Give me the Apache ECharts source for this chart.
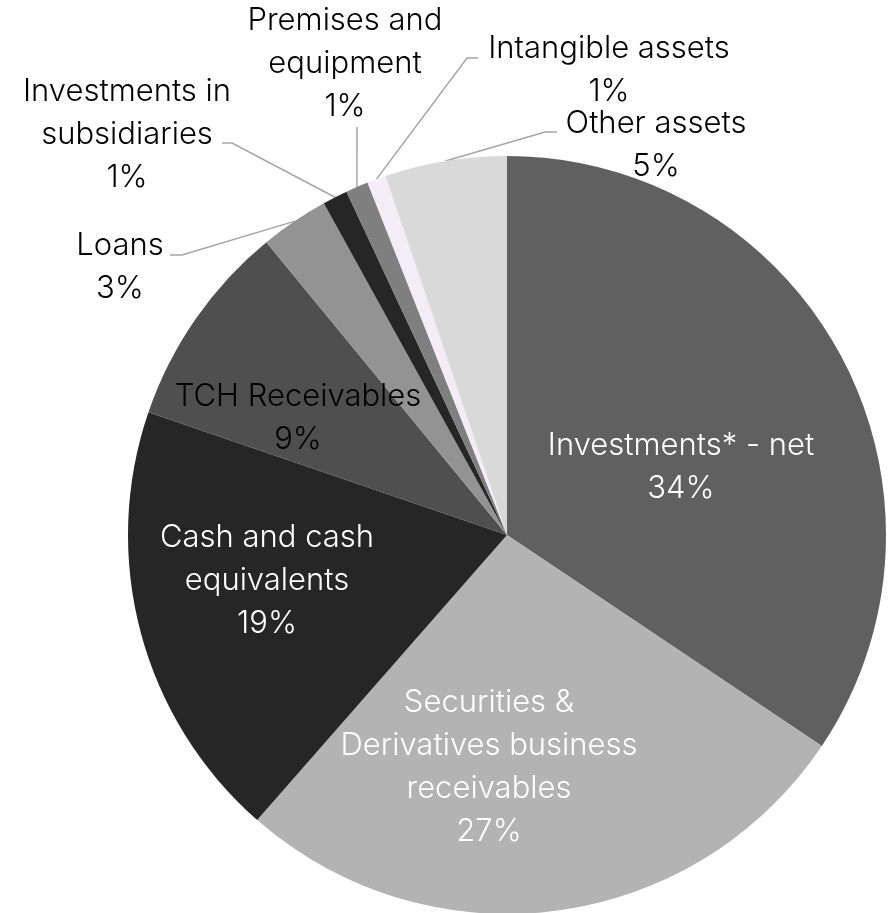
<!DOCTYPE html>
<html>
<head>
<meta charset="utf-8">
<script src="https://cdn.jsdelivr.net/npm/echarts@6/dist/echarts.min.js"></script>
<style>
  html, body { margin: 0; padding: 0; background: #ffffff; }
  #chart { width: 889px; height: 913px; }
</style>
</head>
<body>
<div id="chart"></div>
<script>
// Asset composition (share of total, %)
const categories = [
  'Investments* - net',
  'Securities &\nDerivatives business\nreceivables',
  'Cash and cash\nequivalents',
  'TCH Receivables',
  'Loans',
  'Investments in\nsubsidiaries',
  'Premises and\nequipment',
  'Intangible assets',
  'Other assets'
];
const values = [34.4, 27.06, 18.8, 8.8, 2.92, 1.07, 0.96, 0.81, 5.19];

// Styling per slice
const sliceColors = ['#606060', '#b3b3b3', '#262626', '#4f4f4f', '#939393', '#262626', '#7f7f7f', '#f3edf5', '#d9d9d9'];
const labelColors = ['#ffffff', '#ffffff', '#ffffff', '#000000', '#000000', '#000000', '#000000', '#000000', '#000000'];
const outside = [false, false, false, false, true, true, true, true, true];

// Label block centres and leader line bends (px)
const labelPos = [
  [681, 467], [489, 767], [267, 581], [298, 418],
  [120, 267], [127, 135], [345, 64], [609, 70], [656, 145]
];
const leaderBends = {
  4: [[182, 255], [170, 255]],
  5: [[232, 143], [222, 143]],
  6: [[357, 127], [357, 127]],
  7: [[467, 58], [478, 58]],
  8: [[545, 132], [557, 132]]
};

const chart = echarts.init(document.getElementById('chart'), null, { renderer: 'canvas' });

const data = categories.map((name, i) => ({
  name,
  value: values[i],
  itemStyle: { color: sliceColors[i] },
  label: {
    position: outside[i] ? 'outside' : 'inside',
    color: labelColors[i]
  },
  labelLine: { show: outside[i] }
}));

chart.setOption({
  animation: false,
  series: [{
    type: 'pie',
    center: [507, 535],
    radius: [0, 379],
    startAngle: 90,
    clockwise: true,
    percentPrecision: 0,
    avoidLabelOverlap: false,
    itemStyle: { borderWidth: 0 },
    label: {
      formatter: '{b}\n{d}%',
      fontFamily: 'Inter',
      fontWeight: 300,
      fontSize: 31,
      lineHeight: 43,
      align: 'center'
    },
    labelLine: {
      lineStyle: { color: '#a5a5a5', width: 1.5 },
      length: 10,
      length2: 10
    },
    labelLayout: function (params) {
      const i = params.dataIndex;
      const out = {
        x: labelPos[i][0],
        y: labelPos[i][1],
        align: 'center',
        verticalAlign: 'middle'
      };
      if (leaderBends[i] && params.labelLinePoints) {
        out.labelLinePoints = [params.labelLinePoints[0]].concat(leaderBends[i]);
      }
      return out;
    },
    data
  }]
});
</script>
</body>
</html>
